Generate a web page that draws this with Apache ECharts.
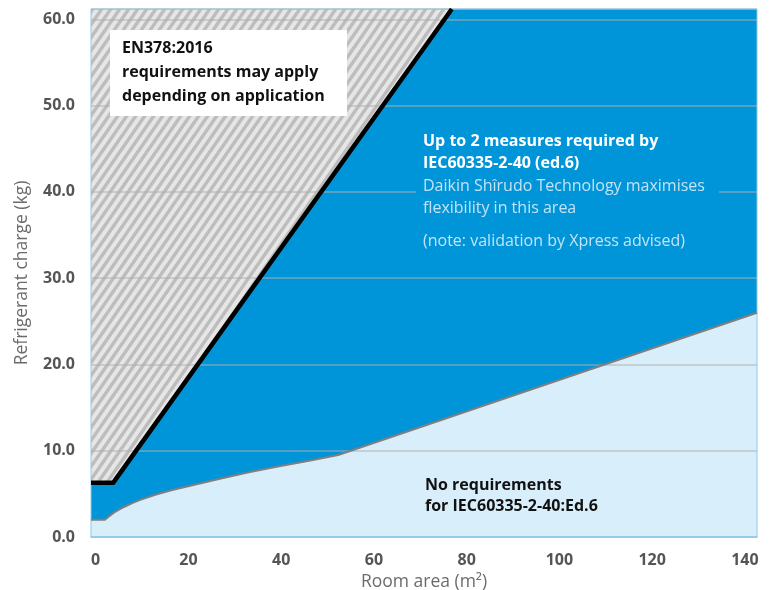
<!DOCTYPE html>
<html><head><meta charset="utf-8">
<script src="https://cdn.jsdelivr.net/npm/echarts@6/dist/echarts.min.js"></script>
<style>html,body{margin:0;padding:0;background:#fff}#c{width:770px;height:590px}</style>
</head><body><div id="c"></div>
<script>
// ---- data ----
const xTickValues = [0, 20, 40, 60, 80, 100, 120, 140];
const xRange = [-1, 142.6];
const yRange = [0, 61.2];
const yInterval = 10;
// EN378:2016 limit (black line)
const enLimit = [[-1, 6.3], [3.8, 6.3], [76.8, 61.2]];
// top-right corner closing the blue "up to 2 measures" region
const blueCorner = [[142.6, 61.2]];
// IEC60335-2-40 ed.6 "no requirements" limit (grey line)
const iecLimit = [[-1, 2.0], [2, 2.0], [3, 2.45], [4, 2.85], [6, 3.45], [8, 3.95], [9.6, 4.3], [13.2, 4.95],
  [16.5, 5.45], [20.4, 5.95], [26.8, 6.75], [33, 7.5], [39, 8.15], [46, 8.85], [52.3, 9.5], [142.6, 26.0]];
const xName = 'Room area (m\u00B2)';
const yName = 'Refrigerant charge (kg)';

// hatch pattern
const hatch = document.createElement('canvas');
const hw = 9, hh = 13;
hatch.width = hw; hatch.height = hh;
(function () {
  const g = hatch.getContext('2d');
  g.fillStyle = '#e6e6e6';
  g.fillRect(0, 0, hw, hh);
  g.strokeStyle = '#bdbdbd';
  g.lineWidth = 3.4;
  for (let n = -1; n <= 3; n++) {
    g.beginPath();
    g.moveTo(-hw, hh * (n + 1));
    g.lineTo(2 * hw, hh * (n - 2));
    g.stroke();
  }
})();

const FONT = '"Open Sans", "Noto Sans", sans-serif';
const chart = echarts.init(document.getElementById('c'), null, { renderer: 'canvas' });
chart.setOption({
  animation: false,
  grid: { left: 91, right: 13, top: 9, bottom: 53, containLabel: false, outerBoundsMode: 'none', show: true, z: 3,
    backgroundColor: 'transparent', borderColor: '#8ccbea', borderWidth: 1 },
  xAxis: {
    type: 'value', min: xRange[0], max: xRange[1], z: 3,
    name: xName, nameLocation: 'middle', nameGap: 32,
    nameTextStyle: { color: '#6b6b6b', fontSize: 17.5, fontFamily: FONT },
    axisLine: { show: true, lineStyle: { color: '#8ccbea', width: 1.5 } },
    axisTick: { show: false },
    splitLine: { show: false },
    axisLabel: { customValues: xTickValues, margin: 15, color: '#555', fontSize: 16, fontWeight: 700, fontFamily: FONT }
  },
  yAxis: {
    type: 'value', min: yRange[0], max: yRange[1], interval: yInterval, z: 2,
    name: yName, nameLocation: 'middle', nameGap: 60,
    nameTextStyle: { color: '#6b6b6b', fontSize: 17.5, fontFamily: FONT },
    axisLine: { show: false }, axisTick: { show: false },
    splitLine: { show: true, lineStyle: { color: 'rgba(175,175,175,0.65)', width: 1.5 } },
    axisLabel: { margin: 16, color: '#555', fontSize: 16, fontWeight: 700, fontFamily: FONT,
      formatter: v => (Math.abs(v % 10) < 1e-9 ? v.toFixed(1) : '') }
  },
  series: [
    { type: 'line', data: enLimit, symbol: 'none', silent: true, z: 1,
      lineStyle: { width: 0 }, areaStyle: { origin: 'end', opacity: 1, color: { image: hatch, repeat: 'repeat' } } },
    { type: 'line', data: enLimit.concat(blueCorner), symbol: 'none', silent: true, z: 1,
      lineStyle: { width: 0 }, areaStyle: { origin: 'start', opacity: 1, color: '#0094d9' } },
    { type: 'line', data: iecLimit, symbol: 'none', silent: true, z: 1,
      lineStyle: { width: 0 }, areaStyle: { origin: 'start', opacity: 1, color: '#d8effb' } },
    { type: 'line', data: enLimit, symbol: 'none', silent: true, z: 4,
      lineStyle: { color: '#000', width: 4.5, join: 'miter' } },
    { type: 'line', data: iecLimit, symbol: 'none', silent: true, z: 4,
      lineStyle: { color: '#7f7f7f', width: 2, join: 'round' } }
  ],
  graphic: [
    { type: 'rect', z: 10, shape: { x: 110, y: 30, width: 237, height: 86 }, style: { fill: '#ffffff' } },
    { type: 'text', z: 11, x: 122, y: 36.5, style: { text: 'EN378:2016\nrequirements may apply\ndepending on application',
      fill: '#111', fontSize: 16, fontWeight: 700, fontFamily: FONT, lineHeight: 24, align: 'left', verticalAlign: 'top' } },
    { type: 'rect', z: 10, shape: { x: 416, y: 128, width: 303, height: 124 }, style: { fill: '#0094d9' } },
    { type: 'text', z: 11, x: 423, y: 131, style: { text: 'Up to 2 measures required by\nIEC60335-2-40 (ed.6)',
      fill: '#ffffff', fontSize: 16, fontWeight: 700, fontFamily: FONT, lineHeight: 21.6, align: 'left', verticalAlign: 'top' } },
    { type: 'text', z: 11, x: 423, y: 175, style: { text: 'Daikin Sh\u00EErudo Technology maximises\nflexibility in this area',
      fill: '#c2e3f5', fontSize: 16, fontWeight: 400, fontFamily: FONT, lineHeight: 22, align: 'left', verticalAlign: 'top' } },
    { type: 'text', z: 11, x: 423, y: 230, style: { text: '(note: validation by Xpress advised)',
      fill: '#c2e3f5', fontSize: 16, fontWeight: 400, fontFamily: FONT, lineHeight: 22, align: 'left', verticalAlign: 'top' } },
    { type: 'text', z: 11, x: 425, y: 474.5, style: { text: 'No requirements\nfor IEC60335-2-40:Ed.6',
      fill: '#111', fontSize: 16, fontWeight: 700, fontFamily: FONT, lineHeight: 21, align: 'left', verticalAlign: 'top' } }
  ]
});
</script></body></html>
